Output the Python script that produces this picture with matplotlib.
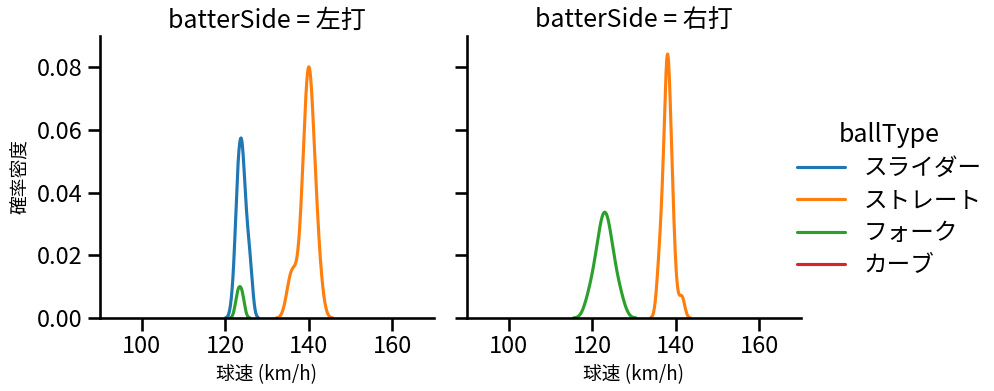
import numpy as np
import pandas as pd
import matplotlib
matplotlib.use("Agg")
import matplotlib.pyplot as plt
import seaborn as sns

# pitch speeds (km/h) per batter side and ball type
left_slider = [122, 123, 123, 123, 123, 123, 124, 124, 124, 124, 124, 124, 125, 125, 125, 126, 126]
left_straight = [135, 136, 136, 137, 138, 138, 139, 139, 139, 139, 139, 139,
                 140, 140, 140, 140, 140, 140, 140, 140, 140, 140,
                 141, 141, 141, 141, 141, 141, 142, 142, 142, 143]
left_fork = [123, 124]
right_fork = [119, 120, 121, 121, 122, 122, 122, 123, 123, 123, 123, 124, 124, 124, 125, 125, 126, 127]
right_straight = [136, 136, 137, 137, 137, 137, 138, 138, 138, 138, 138, 138, 138, 138, 138, 138,
                  139, 139, 139, 139, 139, 140, 141.5]
right_curve = [110]

ball_types = ["スライダー", "ストレート", "フォーク", "カーブ"]
batter_sides = ["左打", "右打"]

groups = [
    ("左打", "スライダー", left_slider),
    ("左打", "ストレート", left_straight),
    ("左打", "フォーク", left_fork),
    ("右打", "フォーク", right_fork),
    ("右打", "ストレート", right_straight),
    ("右打", "カーブ", right_curve),
]
rows = []
for side, bt, vals in groups:
    for v in vals:
        rows.append({"batterSide": side, "ballType": bt, "speed": v})
df = pd.DataFrame(rows)

sns.set_theme(style="ticks", context="talk")
plt.rcParams["font.family"] = ["Noto Sans CJK JP", "DejaVu Sans"]
plt.rcParams.update({
    "axes.edgecolor": "black", "xtick.color": "black", "ytick.color": "black",
    "text.color": "black", "axes.labelcolor": "black",
    "xtick.labelsize": 17, "ytick.labelsize": 17,
    "legend.fontsize": 17, "legend.title_fontsize": 18, "axes.titlesize": 18.5,
})

g = sns.displot(data=df, x="speed", hue="ballType", col="batterSide",
                kind="kde", hue_order=ball_types, col_order=batter_sides,
                palette="tab10", warn_singular=False)
g.set_axis_labels("球速 (km/h)", "確率密度", fontsize=13.5)
g.set(xlim=(90, 170), ylim=(0, 0.09))
for ax in g.axes.flat:
    ax.set_xticks([100, 120, 140, 160])
    ax.set_yticks([0.0, 0.02, 0.04, 0.06, 0.08])

fig = g.figure
fig.set_size_inches(9.95, 3.91)
fig.subplots_adjust(left=0.1005, right=0.805, bottom=0.1867, top=0.908, wspace=0.0988)
sns.move_legend(g, "center left", bbox_to_anchor=(0.78, 0.49), frameon=False,
                labelspacing=0.4)
fig.savefig("out.png", dpi=100)
